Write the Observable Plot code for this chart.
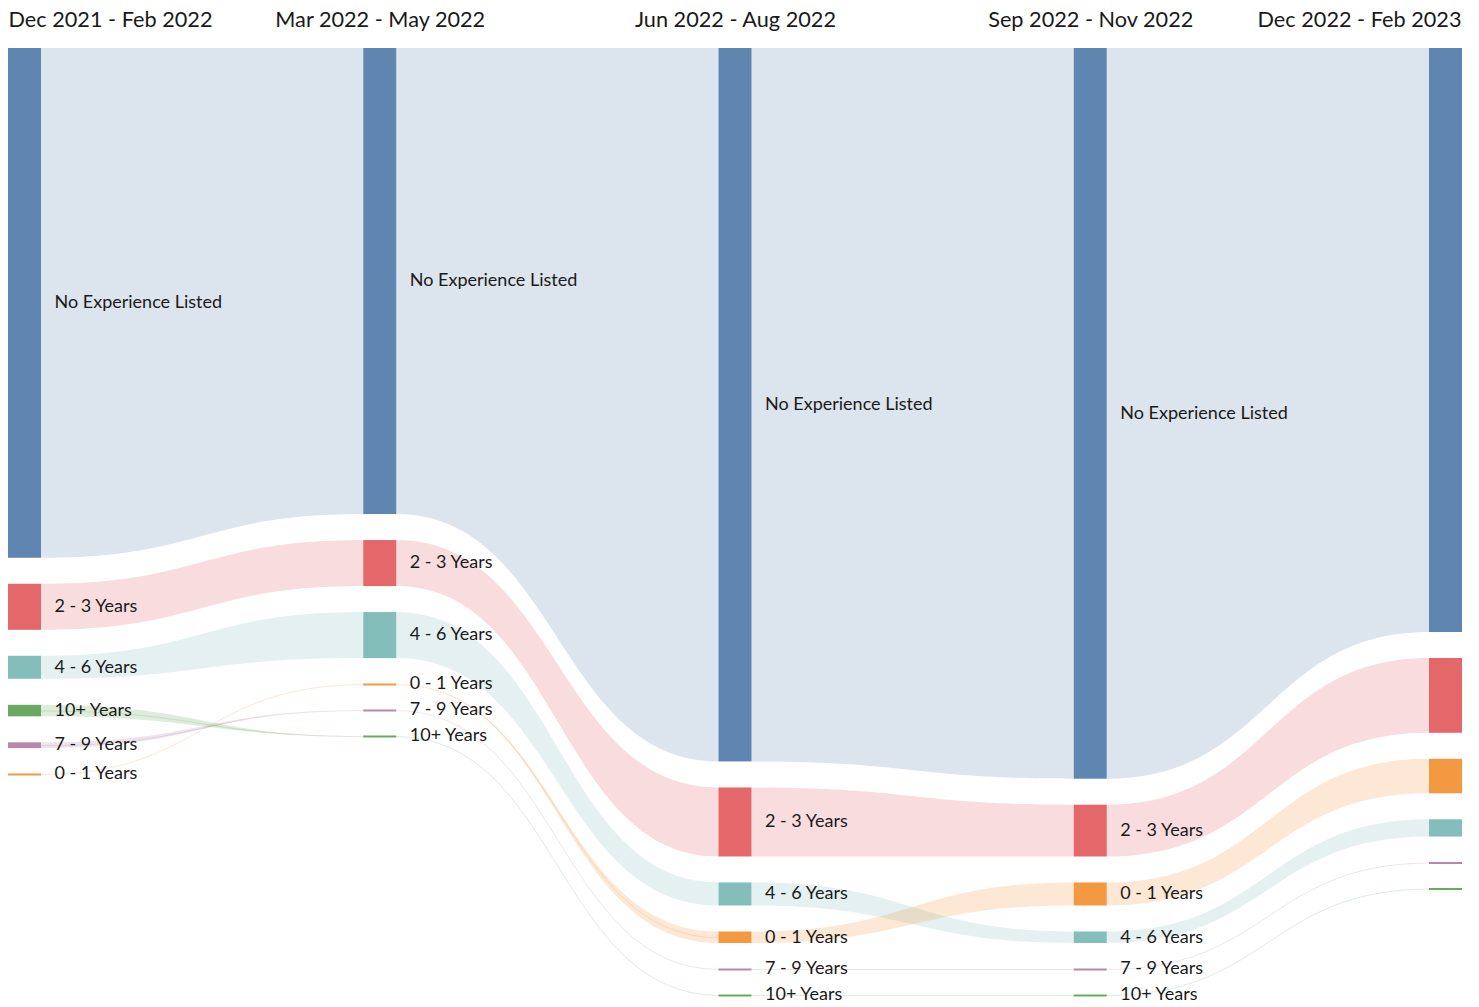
<!DOCTYPE html>
<html>
<head>
<meta charset="utf-8">
<script src="https://cdn.jsdelivr.net/npm/d3@7"></script>
<script src="https://cdn.jsdelivr.net/npm/@observablehq/plot@0.6"></script>
<style>
  html, body { margin: 0; padding: 0; background: #fff; }
  #chart svg { display: block; font-family: Lato, "Noto Sans", sans-serif; }
</style>
</head>
<body>
<div id="chart"></div>
<script>
// ---- data ----
const periods = ["Dec 2021 - Feb 2022", "Mar 2022 - May 2022", "Jun 2022 - Aug 2022", "Sep 2022 - Nov 2022", "Dec 2022 - Feb 2023"];
const categories = ["No Experience Listed", "2 - 3 Years", "4 - 6 Years", "0 - 1 Years", "7 - 9 Years", "10+ Years"];
const noExperience = [88.6, 81, 124, 127, 101.5];
const years2to3   = [8, 8, 12, 9, 13];
const years4to6   = [4, 8, 4, 2, 3];
const years0to1   = [0, 0, 2, 4, 6];
const years7to9   = [1, 0, 0, 0, 0];
const years10plus = [2, 0, 0, 0, 0];
const palette = ["#4e79a7", "#e15759", "#76b7b2", "#f28e2c", "#b07aa1", "#59a14f"];

// ---- layout (in data units) ----
const series = [noExperience, years2to3, years4to6, years0to1, years7to9, years10plus];
const nodeW = 33 / 355.25;     // node width as fraction of column step
const pad = 26 / 5.754;        // gap between nodes in value units

const nodes = [];
periods.forEach((p, i) => {
  const col = categories.map((c, k) => ({cat: c, k, value: series[k][i], col: i}));
  col.sort((a, b) => d3.descending(a.value, b.value) || d3.ascending(a.k, b.k));
  let y = 0;
  col.forEach(n => {
    n.y0 = y; n.y1 = y + n.value; n.mid = (n.y0 + n.y1) / 2;
    n.x0 = i; n.x1 = i + nodeW;
    y = n.y1 + pad;
    nodes.push(n);
  });
});
const maxTotal = d3.max(periods, (p, i) => d3.sum(series, s => s[i]) + (categories.length - 1) * pad);
const nodeOf = (i, c) => nodes.find(n => n.col === i && n.cat === c);

const linkPts = [];
const zeroLinks = [];
for (let i = 0; i < periods.length - 1; i++) {
  categories.forEach(c => {
    const a = nodeOf(i, c), b = nodeOf(i + 1, c);
    const id = c + i;
    linkPts.push({id, cat: c, x: a.x1, top: a.y0, bottom: a.y1});
    linkPts.push({id, cat: c, x: b.x0, top: b.y0, bottom: b.y1});
    if (a.value === 0 || b.value === 0) {
      zeroLinks.push({id, cat: c, x: a.x1, y: a.mid});
      zeroLinks.push({id, cat: c, x: b.x0, y: b.mid});
    }
  });
}

const headers = periods.map((p, i) => ({p, i}));
const last = periods.length - 1;
const hdr = {frameAnchor: "top", lineAnchor: "middle", dy: -28, fontSize: 21.7, fill: "#1a1a1a"};

const chart = Plot.plot({
  width: 1479,
  height: 1007,
  marginTop: 48,
  marginBottom: 12,
  marginLeft: 8,
  marginRight: 17,
  x: {domain: [0, last + nodeW], axis: null},
  y: {domain: [0, maxTotal], reverse: true, axis: null},
  color: {domain: categories, range: palette},
  marks: [
    Plot.area(linkPts, {x1: "x", y1: "top", y2: "bottom", z: "id", fill: "cat", fillOpacity: 0.2, curve: "bump-x"}),
    Plot.line(zeroLinks, {x: "x", y: "y", z: "id", stroke: "cat", strokeOpacity: 0.2, strokeWidth: 1, curve: "bump-x"}),
    Plot.rect(nodes, {x1: "x0", x2: "x1", y1: "y0", y2: "y1", fill: "cat", fillOpacity: 0.9}),
    Plot.ruleY(nodes.filter(n => n.value === 0), {x1: "x0", x2: "x1", y: "y0", stroke: "cat", strokeOpacity: 0.9, strokeWidth: 2}),
    Plot.text(nodes.filter(n => n.col < last), {x: "x1", y: "mid", text: "cat", textAnchor: "start", dx: 13, dy: -1, fontSize: 18, fill: "#1a1a1a"}),
    Plot.text(headers.filter(h => h.i === 0), {x: h => h.i, text: "p", textAnchor: "start", ...hdr}),
    Plot.text(headers.filter(h => h.i > 0 && h.i < last), {x: h => h.i + nodeW / 2, text: "p", textAnchor: "middle", ...hdr}),
    Plot.text(headers.filter(h => h.i === last), {x: h => h.i + nodeW, text: "p", textAnchor: "end", dx: -1, ...hdr})
  ]
});
document.getElementById("chart").appendChild(chart);
</script>
</body>
</html>
